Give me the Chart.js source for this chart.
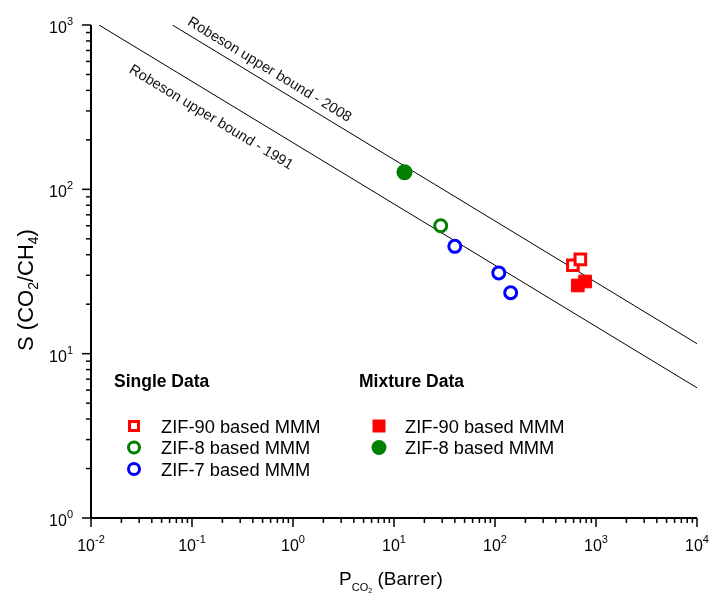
<!DOCTYPE html>
<html>
<head>
<meta charset="utf-8">
<title>CO2/CH4 separation - ZIF based MMM</title>
<script src="https://cdn.jsdelivr.net/npm/chart.js@4.4.1/dist/chart.umd.min.js"></script>
<style>
  html, body { margin: 0; padding: 0; background: #fff; }
  canvas { display: block; }
</style>
</head>
<body>
<canvas id="chart" width="711" height="600"></canvas>
<script>
// CO2 permeability (Barrer) and CO2/CH4 selectivity
const zif90SingleP = [590, 700];
const zif90SingleS = [34.5, 37.5];
const zif8SingleP = [29];
const zif8SingleS = [60];
const zif7SingleP = [40, 109, 143];
const zif7SingleS = [45, 31, 23.5];
const zif90MixP = [660, 780];
const zif90MixS = [26, 27.5];
const zif8MixP = [12.7];
const zif8MixS = [127];

// Robeson upper bound end points
const bound1991P = [0.012, 10000];
const bound1991S = [1000, 6.2];
const bound2008P = [0.064, 10000];
const bound2008S = [1000, 11.5];

// decades on each axis
const xTickPowers = [-2, -1, 0, 1, 2, 3, 4];
const yTickPowers = [0, 1, 2, 3];

const FONT = '"Liberation Sans", Arial, sans-serif';
const RED = '#ff0000', GREEN = '#008000', BLUE = '#0000ff';

const pts = (xs, ys) => xs.map((x, i) => ({ x, y: ys[i] }));

// text made of pieces with their own size and vertical shift
function richWidth(ctx, parts) {
  let w = 0;
  parts.forEach(p => { ctx.font = (p.bold ? 'bold ' : '') + p.size + 'px ' + FONT; w += ctx.measureText(p.t).width; });
  return w;
}
function drawRich(ctx, parts, x, y, align) {
  const w = richWidth(ctx, parts);
  let cx = align === 'center' ? x - w / 2 : align === 'right' ? x - w : x;
  ctx.textAlign = 'left';
  ctx.textBaseline = 'alphabetic';
  parts.forEach(p => {
    ctx.font = (p.bold ? 'bold ' : '') + p.size + 'px ' + FONT;
    ctx.fillText(p.t, cx, y + (p.dy || 0));
    cx += ctx.measureText(p.t).width;
  });
}
const pow10 = (p, size, supSize) => [{ t: '10', size }, { t: String(p), size: supSize, dy: -8 }];

function marker(ctx, style, x, y) {
  ctx.save();
  ctx.fillStyle = style.fill;
  ctx.strokeStyle = style.stroke;
  ctx.lineWidth = style.lw;
  ctx.beginPath();
  if (style.shape === 'rect') ctx.rect(x - style.half, y - style.half, style.half * 2, style.half * 2);
  else ctx.arc(x, y, style.half, 0, Math.PI * 2);
  ctx.fill();
  if (style.lw > 0) ctx.stroke();
  ctx.restore();
}

const legendRows = [
  { col: 0, row: 0, text: 'ZIF-90 based MMM', style: { shape: 'rect', half: 4.5, fill: '#fff', stroke: RED, lw: 3 } },
  { col: 0, row: 1, text: 'ZIF-8 based MMM', style: { shape: 'circle', half: 5.5, fill: '#fff', stroke: GREEN, lw: 3 } },
  { col: 0, row: 2, text: 'ZIF-7 based MMM', style: { shape: 'circle', half: 5.5, fill: '#fff', stroke: BLUE, lw: 3 } },
  { col: 1, row: 0, text: 'ZIF-90 based MMM', style: { shape: 'rect', half: 6.5, fill: RED, stroke: RED, lw: 0 } },
  { col: 1, row: 1, text: 'ZIF-8 based MMM', style: { shape: 'circle', half: 7.5, fill: GREEN, stroke: GREEN, lw: 0 } }
];

const decor = {
  id: 'decor',
  afterDraw(chart) {
    const { ctx, chartArea: a, scales: { x, y } } = chart;
    ctx.save();
    ctx.fillStyle = '#000';
    ctx.strokeStyle = '#000';

    const seg = (x1, y1, x2, y2) => { ctx.beginPath(); ctx.moveTo(x1, y1); ctx.lineTo(x2, y2); ctx.stroke(); };

    // axis lines
    ctx.lineWidth = 2;
    seg(a.left, a.top, a.left, a.bottom);
    seg(a.left, a.bottom, a.right, a.bottom);

    // x ticks and labels
    ctx.lineWidth = 1.5;
    xTickPowers.forEach((p, i) => {
      const v = Math.pow(10, p);
      const px = x.getPixelForValue(v);
      seg(px, a.bottom, px, a.bottom + 9);
      if (i < xTickPowers.length - 1) {
        for (let m = 2; m <= 9; m++) {
          const mx = x.getPixelForValue(m * v);
          seg(mx, a.bottom, mx, a.bottom + 5);
        }
      }
      drawRich(ctx, pow10(p, 16, 11), px, a.bottom + 33, 'center');
    });

    // y ticks and labels
    yTickPowers.forEach((p, i) => {
      const v = Math.pow(10, p);
      const py = y.getPixelForValue(v);
      seg(a.left, py, a.left - 9, py);
      if (i < yTickPowers.length - 1) {
        for (let m = 2; m <= 9; m++) {
          const my = y.getPixelForValue(m * v);
          seg(a.left, my, a.left - 5, my);
        }
      }
      drawRich(ctx, pow10(p, 16, 11), 73, py + 8, 'right');
    });

    // axis titles
    drawRich(ctx, [
      { t: 'P', size: 19 },
      { t: 'CO', size: 11, dy: 6 },
      { t: '2', size: 7, dy: 8 },
      { t: ' (Barrer)', size: 19 }
    ], 391, 585, 'center');

    ctx.save();
    ctx.translate(33, 290);
    ctx.rotate(-Math.PI / 2);
    drawRich(ctx, [
      { t: 'S (CO', size: 22 },
      { t: '2', size: 14, dy: 5 },
      { t: '/CH', size: 22 },
      { t: '4', size: 14, dy: 5 },
      { t: ')', size: 22 }
    ], 0, 0, 'center');
    ctx.restore();

    // upper bound labels, rotated along their lines
    const boundLabel = (text, ps, ss, atP, offset) => {
      const x0 = x.getPixelForValue(ps[0]), y0 = y.getPixelForValue(ss[0]);
      const x1 = x.getPixelForValue(ps[1]), y1 = y.getPixelForValue(ss[1]);
      const ang = Math.atan2(y1 - y0, x1 - x0);
      const ax = x.getPixelForValue(atP);
      const ay = y0 + (ax - x0) * (y1 - y0) / (x1 - x0);
      ctx.save();
      ctx.translate(ax, ay);
      ctx.rotate(ang);
      ctx.fillStyle = '#111';
      ctx.font = '14.5px ' + FONT;
      ctx.textAlign = 'left';
      ctx.textBaseline = 'alphabetic';
      ctx.fillText(text, 0, offset);
      ctx.restore();
    };
    boundLabel('Robeson upper bound - 2008', bound2008P, bound2008S, 0.0807, -8);
    boundLabel('Robeson upper bound - 1991', bound1991P, bound1991S, 0.0315, 25);

    // legend
    drawRich(ctx, [{ t: 'Single Data', size: 17.5, bold: true }], 114, 387, 'left');
    drawRich(ctx, [{ t: 'Mixture Data', size: 17.5, bold: true }], 359, 387, 'left');
    const colMarker = [134, 379], colText = [161, 405];
    legendRows.forEach(r => {
      const cy = 426 + r.row * 21.5;
      marker(ctx, r.style, colMarker[r.col], cy);
      ctx.fillStyle = '#000';
      drawRich(ctx, [{ t: r.text, size: 18.3 }], colText[r.col], cy + 6.5, 'left');
    });

    ctx.restore();
  }
};

new Chart(document.getElementById('chart'), {
  type: 'scatter',
  data: {
    datasets: [
      {
        label: 'ZIF-8 based MMM (mixture)',
        data: pts(zif8MixP, zif8MixS),
        pointStyle: 'circle', pointRadius: 8,
        backgroundColor: GREEN, borderColor: GREEN, borderWidth: 0
      },
      {
        label: 'ZIF-90 based MMM (mixture)',
        data: pts(zif90MixP, zif90MixS),
        pointStyle: 'rect', pointRadius: 9,
        backgroundColor: RED, borderColor: RED, borderWidth: 1
      },
      {
        label: 'ZIF-90 based MMM',
        data: pts(zif90SingleP, zif90SingleS),
        pointStyle: 'rect', pointRadius: 7.5,
        backgroundColor: '#fff', borderColor: RED, borderWidth: 3
      },
      {
        label: 'ZIF-8 based MMM',
        data: pts(zif8SingleP, zif8SingleS),
        pointStyle: 'circle', pointRadius: 6,
        backgroundColor: '#fff', borderColor: GREEN, borderWidth: 3
      },
      {
        label: 'ZIF-7 based MMM',
        data: pts(zif7SingleP, zif7SingleS),
        pointStyle: 'circle', pointRadius: 6,
        backgroundColor: '#fff', borderColor: BLUE, borderWidth: 3
      },
      {
        type: 'line',
        label: 'Robeson upper bound - 2008',
        data: pts(bound2008P, bound2008S),
        borderColor: '#000', borderWidth: 1, pointRadius: 0, fill: false, order: 10
      },
      {
        type: 'line',
        label: 'Robeson upper bound - 1991',
        data: pts(bound1991P, bound1991S),
        borderColor: '#000', borderWidth: 1, pointRadius: 0, fill: false, order: 10
      }
    ]
  },
  options: {
    responsive: false,
    devicePixelRatio: 1,
    animation: false,
    events: [],
    layout: { padding: { left: 91, top: 25, right: 14, bottom: 82 } },
    plugins: { legend: { display: false }, tooltip: { enabled: false } },
    scales: {
      x: { type: 'logarithmic', min: 0.01, max: 10000, display: false },
      y: { type: 'logarithmic', min: 1, max: 1000, display: false }
    }
  },
  plugins: [decor]
});
</script>
</body>
</html>
